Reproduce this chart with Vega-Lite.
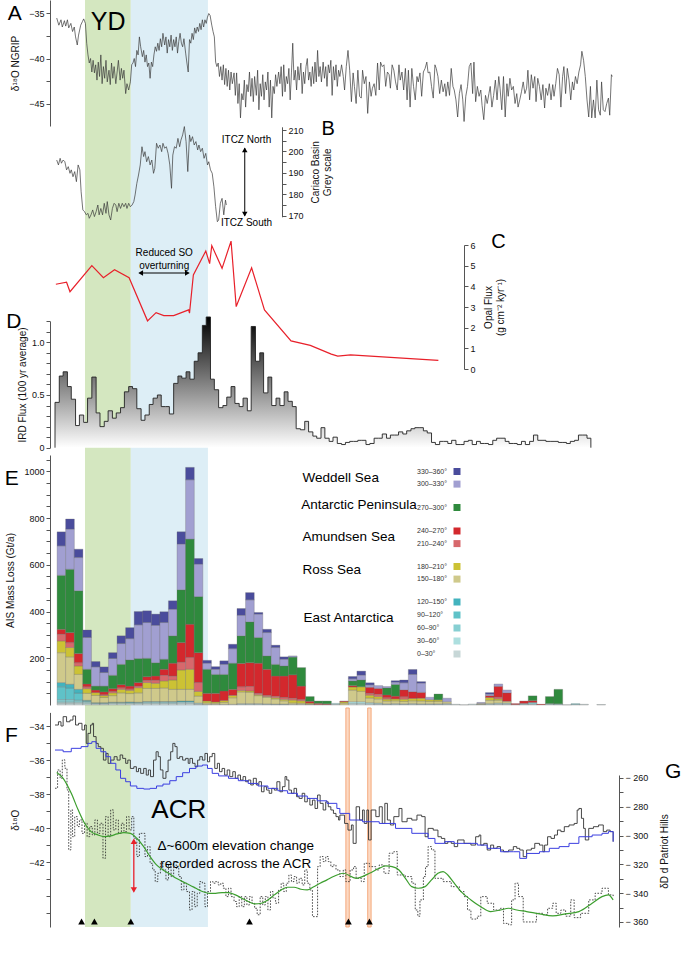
{
"$schema": "https://vega.github.io/schema/vega-lite/v6.json",
"width": 569, "height": 927,
"autosize": {"type": "none"},
"padding": {"left": 50, "top": 0, "right": 66, "bottom": 34},
"background": "white",
"config": {
  "view": {"stroke": null},
  "font": "Liberation Sans",
  "axis": {"labelFontSize": 9, "titleFontSize": 10, "titleFontWeight": "normal", "domainColor": "#555", "tickColor": "#555", "labelColor": "#111", "titleColor": "#111", "grid": false, "tickSize": 4, "labelPadding": 2, "labelFont": "Liberation Sans", "titleFont": "Liberation Sans"},
  "text": {"font": "Liberation Sans"}
},
"data": {"values": [{}]},
"datasets": {
  "regions": [
    {"k": "a330", "r": "330–360°", "o": 11, "g": "Weddell Sea"},
    {"k": "a300", "r": "300–330°", "o": 10, "g": "Weddell Sea"},
    {"k": "a270", "r": "270–300°", "o": 9, "g": "Antarctic Peninsula"},
    {"k": "a240", "r": "240–270°", "o": 8, "g": "Amundsen Sea"},
    {"k": "a210", "r": "210–240°", "o": 7, "g": "Amundsen Sea"},
    {"k": "a180", "r": "180–210°", "o": 6, "g": "Ross Sea"},
    {"k": "a150", "r": "150–180°", "o": 5, "g": "Ross Sea"},
    {"k": "a120", "r": "120–150°", "o": 4, "g": "East Antarctica"},
    {"k": "a90", "r": "90–120°", "o": 3, "g": "East Antarctica"},
    {"k": "a60", "r": "60–90°", "o": 2, "g": "East Antarctica"},
    {"k": "a30", "r": "30–60°", "o": 1, "g": "East Antarctica"},
    {"k": "a0", "r": "0–30°", "o": 0, "g": "East Antarctica"}
  ],
  "ird": [
{"t":10.95,"v":0},{"t":10.95,"v":0.43},{"t":11.05,"v":0.68},{"t":11.14,"v":0.72},{"t":11.24,"v":0.58},{"t":11.33,"v":0.46},{"t":11.43,"v":0.21},{"t":11.52,"v":0.31},{"t":11.62,"v":0.24},{"t":11.71,"v":0.47},{"t":11.81,"v":0.67},{"t":11.91,"v":0.33},{"t":12.00,"v":0.20},{"t":12.10,"v":0.25},{"t":12.19,"v":0.35},{"t":12.29,"v":0.28},{"t":12.38,"v":0.33},{"t":12.48,"v":0.38},{"t":12.57,"v":0.53},{"t":12.67,"v":0.58},{"t":12.76,"v":0.56},{"t":12.86,"v":0.37},{"t":12.96,"v":0.26},{"t":13.05,"v":0.31},{"t":13.15,"v":0.41},{"t":13.24,"v":0.47},{"t":13.34,"v":0.50},{"t":13.43,"v":0.39},{"t":13.53,"v":0.39},{"t":13.62,"v":0.32},{"t":13.72,"v":0.61},{"t":13.82,"v":0.68},{"t":13.91,"v":0.66},{"t":14.01,"v":0.72},{"t":14.10,"v":0.65},{"t":14.20,"v":0.82},{"t":14.29,"v":0.90},{"t":14.39,"v":1.16},{"t":14.48,"v":1.24},{"t":14.58,"v":0.65},{"t":14.67,"v":0.55},{"t":14.77,"v":0.38},{"t":14.87,"v":0.40},{"t":14.96,"v":0.48},{"t":15.06,"v":0.58},{"t":15.15,"v":0.42},{"t":15.25,"v":0.39},{"t":15.34,"v":0.47},{"t":15.44,"v":0.35},{"t":15.53,"v":1.15},{"t":15.63,"v":0.82},{"t":15.73,"v":0.90},{"t":15.82,"v":0.52},{"t":15.92,"v":0.67},{"t":16.01,"v":0.40},{"t":16.11,"v":0.47},{"t":16.20,"v":0.40},{"t":16.30,"v":0.53},{"t":16.39,"v":0.44},{"t":16.49,"v":0.39},{"t":16.58,"v":0.18},{"t":16.68,"v":0.17},{"t":16.78,"v":0.25},{"t":16.87,"v":0.15},{"t":16.97,"v":0.11},{"t":17.06,"v":0.09},{"t":17.16,"v":0.19},{"t":17.25,"v":0.09},{"t":17.35,"v":0.06},{"t":17.44,"v":0.10},{"t":17.54,"v":0.04},{"t":17.64,"v":0.03},{"t":17.73,"v":0.05},{"t":17.83,"v":0.06},{"t":17.92,"v":0.06},{"t":18.02,"v":0.07},{"t":18.11,"v":0.07},{"t":18.21,"v":0.03},{"t":18.30,"v":0.04},{"t":18.40,"v":0.09},{"t":18.50,"v":0.09},{"t":18.59,"v":0.13},{"t":18.69,"v":0.09},{"t":18.78,"v":0.12},{"t":18.88,"v":0.12},{"t":18.97,"v":0.15},{"t":19.07,"v":0.13},{"t":19.16,"v":0.16},{"t":19.26,"v":0.18},{"t":19.35,"v":0.19},{"t":19.45,"v":0.19},{"t":19.55,"v":0.16},{"t":19.64,"v":0.14},{"t":19.74,"v":0.05},{"t":19.83,"v":0.03},{"t":19.93,"v":0.06},{"t":20.02,"v":0.06},{"t":20.12,"v":0.04},{"t":20.21,"v":0.07},{"t":20.31,"v":0.03},{"t":20.41,"v":0.03},{"t":20.50,"v":0.06},{"t":20.60,"v":0.07},{"t":20.69,"v":0.03},{"t":20.79,"v":0.06},{"t":20.88,"v":0.04},{"t":20.98,"v":0.04},{"t":21.07,"v":0.03},{"t":21.17,"v":0.07},{"t":21.26,"v":0.09},{"t":21.36,"v":0.09},{"t":21.46,"v":0.06},{"t":21.55,"v":0.04},{"t":21.65,"v":0.04},{"t":21.74,"v":0.03},{"t":21.84,"v":0.06},{"t":21.93,"v":0.03},{"t":22.03,"v":0.06},{"t":22.12,"v":0.12},{"t":22.22,"v":0.07},{"t":22.32,"v":0.07},{"t":22.41,"v":0.06},{"t":22.51,"v":0.06},{"t":22.60,"v":0.06},{"t":22.70,"v":0.05},{"t":22.79,"v":0.05},{"t":22.89,"v":0.04},{"t":22.98,"v":0.06},{"t":23.08,"v":0.07},{"t":23.17,"v":0.12},{"t":23.27,"v":0.12},{"t":23.37,"v":0.09},{"t":23.46,"v":0}
  ]
},
"resolve": {"scale": {"y": "independent", "color": "independent"}, "axis": {"y": "independent"}},
"layer": [
  {"mark": {"type": "rect", "color": "#d4e7c0"},
   "encoding": {"x": {"datum": 11.65, "type": "quantitative", "scale": {"domain": [10.95, 24], "nice": false, "zero": false}, "axis": null}, "x2": {"datum": 12.72}}},
  {"mark": {"type": "rect", "color": "#ddeef6"},
   "encoding": {"x": {"datum": 12.72, "type": "quantitative", "scale": {"domain": [10.95, 24], "nice": false, "zero": false}, "axis": null}, "x2": {"datum": 14.52}}},

  {"data": {"values": [{"t": 17.74, "t2": 17.82}, {"t": 18.25, "t2": 18.33}]},
   "mark": {"type": "rect", "fill": "#fcd9c3", "stroke": "#f39a66", "strokeWidth": 0.8},
   "encoding": {"x": {"field": "t", "type": "quantitative", "scale": {"domain": [10.95, 24], "nice": false, "zero": false}, "axis": null}, "x2": {"field": "t2"},
     "y": {"datum": -32.94, "type": "quantitative", "scale": {"domain": [-45.8, -33.2], "range": [927, 712.4], "nice": false, "zero": false}, "axis": null}, "y2": {"datum": -45.8}}},

  {"data": {"values": [
{"t":10.99,"v":-35.5},{"t":11.04,"v":-36.3},{"t":11.09,"v":-35.7},{"t":11.12,"v":-36.5},{"t":11.17,"v":-35.8},{"t":11.20,"v":-36.4},{"t":11.24,"v":-35.7},{"t":11.27,"v":-36.6},{"t":11.32,"v":-36.1},{"t":11.36,"v":-37.0},{"t":11.40,"v":-36.5},{"t":11.43,"v":-37.6},{"t":11.47,"v":-38.5},{"t":11.50,"v":-37.4},{"t":11.55,"v":-36.3},{"t":11.59,"v":-35.9},{"t":11.62,"v":-35.6},{"t":11.66,"v":-36.1},{"t":11.69,"v":-38.3},{"t":11.72,"v":-39.6},{"t":11.75,"v":-40.5},{"t":11.78,"v":-40.0},{"t":11.81,"v":-41.5},{"t":11.84,"v":-40.2},{"t":11.87,"v":-41.6},{"t":11.90,"v":-40.7},{"t":11.93,"v":-42.4},{"t":11.96,"v":-40.4},{"t":11.99,"v":-42.0},{"t":12.02,"v":-39.6},{"t":12.05,"v":-42.8},{"t":12.08,"v":-40.9},{"t":12.11,"v":-42.2},{"t":12.14,"v":-40.2},{"t":12.17,"v":-42.6},{"t":12.21,"v":-41.3},{"t":12.24,"v":-42.9},{"t":12.27,"v":-40.5},{"t":12.30,"v":-42.2},{"t":12.33,"v":-40.9},{"t":12.37,"v":-42.8},{"t":12.40,"v":-41.5},{"t":12.43,"v":-40.2},{"t":12.47,"v":-42.4},{"t":12.50,"v":-41.1},{"t":12.53,"v":-42.2},{"t":12.56,"v":-41.3},{"t":12.60,"v":-43.9},{"t":12.63,"v":-42.8},{"t":12.67,"v":-43.5},{"t":12.71,"v":-42.6},
{"t":12.74,"v":-40.7},{"t":12.77,"v":-40.5},{"t":12.80,"v":-40.0},{"t":12.83,"v":-40.9},{"t":12.86,"v":-39.1},{"t":12.89,"v":-39.6},{"t":12.92,"v":-37.6},{"t":12.95,"v":-38.7},{"t":12.99,"v":-39.8},{"t":13.02,"v":-39.1},{"t":13.05,"v":-40.4},{"t":13.08,"v":-39.6},{"t":13.11,"v":-40.9},{"t":13.14,"v":-40.5},{"t":13.17,"v":-42.2},{"t":13.20,"v":-40.4},{"t":13.23,"v":-40.9},{"t":13.26,"v":-39.6},{"t":13.29,"v":-38.7},{"t":13.32,"v":-39.2},{"t":13.35,"v":-38.3},{"t":13.38,"v":-39.1},{"t":13.41,"v":-37.8},{"t":13.44,"v":-38.7},{"t":13.47,"v":-37.2},{"t":13.51,"v":-38.5},{"t":13.54,"v":-37.6},{"t":13.57,"v":-39.4},{"t":13.60,"v":-37.9},{"t":13.63,"v":-38.7},{"t":13.66,"v":-37.4},{"t":13.69,"v":-39.1},{"t":13.72,"v":-37.9},{"t":13.75,"v":-38.7},{"t":13.78,"v":-37.6},{"t":13.81,"v":-39.4},{"t":13.84,"v":-38.1},{"t":13.87,"v":-37.2},{"t":13.90,"v":-38.3},{"t":13.93,"v":-38.7},{"t":13.96,"v":-37.8},{"t":14.00,"v":-39.4},{"t":14.03,"v":-40.5},{"t":14.06,"v":-41.5},{"t":14.09,"v":-37.9},{"t":14.12,"v":-38.3},{"t":14.15,"v":-37.2},{"t":14.18,"v":-37.9},{"t":14.21,"v":-36.6},{"t":14.24,"v":-37.2},{"t":14.27,"v":-36.5},{"t":14.30,"v":-37.0},{"t":14.33,"v":-36.1},{"t":14.36,"v":-36.8},{"t":14.39,"v":-35.7},{"t":14.42,"v":-36.5},{"t":14.45,"v":-35.7},{"t":14.48,"v":-36.1},{"t":14.51,"v":-35.4},{"t":14.54,"v":-35.0},{"t":14.57,"v":-35.2},{"t":14.61,"v":-36.3},{"t":14.64,"v":-37.0},{"t":14.67,"v":-37.6},{"t":14.70,"v":-40.4},
{"t":14.73,"v":-40.9},{"t":14.76,"v":-40.5},{"t":14.79,"v":-42.0},{"t":14.82,"v":-40.9},{"t":14.85,"v":-42.4},{"t":14.88,"v":-40.7},{"t":14.91,"v":-42.9},{"t":14.94,"v":-41.1},{"t":14.97,"v":-43.1},{"t":15.00,"v":-41.3},{"t":15.03,"v":-43.5},{"t":15.06,"v":-41.5},{"t":15.09,"v":-42.8},{"t":15.13,"v":-41.6},{"t":15.16,"v":-44.1},{"t":15.19,"v":-41.6},{"t":15.22,"v":-45.0},{"t":15.25,"v":-42.8},{"t":15.28,"v":-46.6},{"t":15.31,"v":-43.9},{"t":15.34,"v":-44.6},{"t":15.37,"v":-42.4},{"t":15.40,"v":-45.4},{"t":15.43,"v":-42.9},{"t":15.46,"v":-43.7},{"t":15.49,"v":-41.5},{"t":15.52,"v":-44.2},{"t":15.55,"v":-42.2},{"t":15.58,"v":-44.8},{"t":15.61,"v":-42.0},{"t":15.65,"v":-44.1},{"t":15.68,"v":-41.3},{"t":15.71,"v":-45.7},{"t":15.74,"v":-42.8},{"t":15.77,"v":-44.2},{"t":15.80,"v":-41.8},{"t":15.83,"v":-44.6},{"t":15.86,"v":-42.6},{"t":15.89,"v":-43.5},{"t":15.92,"v":-41.5},{"t":15.95,"v":-45.4},{"t":15.98,"v":-42.4},{"t":16.01,"v":-46.6},{"t":16.04,"v":-43.1},{"t":16.07,"v":-43.9},{"t":16.10,"v":-41.8},{"t":16.13,"v":-43.1},{"t":16.17,"v":-41.5},{"t":16.20,"v":-42.8},{"t":16.23,"v":-40.9},{"t":16.26,"v":-44.2},{"t":16.29,"v":-40.7},{"t":16.32,"v":-43.7},{"t":16.35,"v":-42.0},{"t":16.38,"v":-42.8},{"t":16.41,"v":-41.1},{"t":16.44,"v":-44.6},{"t":16.47,"v":-41.6},{"t":16.50,"v":-38.3},{"t":16.53,"v":-42.4},{"t":16.56,"v":-41.3},{"t":16.59,"v":-43.5},{"t":16.62,"v":-40.9},{"t":16.65,"v":-42.4},{"t":16.69,"v":-40.5},{"t":16.72,"v":-43.9},{"t":16.75,"v":-41.5},{"t":16.78,"v":-42.8},{"t":16.81,"v":-40.9},{"t":16.84,"v":-40.0},{"t":16.87,"v":-42.4},{"t":16.90,"v":-41.5},{"t":16.93,"v":-43.1},{"t":16.96,"v":-40.9},{"t":16.99,"v":-42.8},{"t":17.02,"v":-40.4},{"t":17.05,"v":-42.6},{"t":17.08,"v":-39.1},{"t":17.11,"v":-42.0},{"t":17.14,"v":-40.9},{"t":17.17,"v":-42.6},{"t":17.21,"v":-40.4},{"t":17.24,"v":-42.2},{"t":17.27,"v":-40.9},{"t":17.30,"v":-43.1},{"t":17.33,"v":-40.7},{"t":17.36,"v":-41.6},{"t":17.39,"v":-40.2},{"t":17.42,"v":-44.1},{"t":17.45,"v":-40.9},{"t":17.48,"v":-42.4},{"t":17.51,"v":-40.7},{"t":17.54,"v":-43.1},{"t":17.57,"v":-41.3},{"t":17.60,"v":-42.0},
{"t":17.64,"v":-40.7},{"t":17.68,"v":-42.0},{"t":17.71,"v":-43.5},{"t":17.75,"v":-40.9},{"t":17.79,"v":-39.1},{"t":17.83,"v":-41.3},{"t":17.87,"v":-44.8},{"t":17.91,"v":-41.6},{"t":17.94,"v":-43.1},{"t":17.98,"v":-45.0},{"t":18.02,"v":-41.3},{"t":18.06,"v":-44.2},{"t":18.10,"v":-44.4},{"t":18.13,"v":-41.3},{"t":18.17,"v":-42.8},{"t":18.21,"v":-42.0},{"t":18.25,"v":-46.1},{"t":18.29,"v":-42.6},{"t":18.33,"v":-44.2},{"t":18.36,"v":-43.3},{"t":18.40,"v":-42.8},{"t":18.44,"v":-44.1},{"t":18.48,"v":-40.5},{"t":18.52,"v":-43.5},{"t":18.55,"v":-40.4},{"t":18.59,"v":-40.9},{"t":18.63,"v":-40.7},{"t":18.67,"v":-43.1},{"t":18.71,"v":-41.5},{"t":18.75,"v":-41.8},{"t":18.78,"v":-43.3},{"t":18.82,"v":-40.7},{"t":18.86,"v":-41.3},{"t":18.90,"v":-42.6},{"t":18.94,"v":-43.5},{"t":18.98,"v":-40.7},{"t":19.01,"v":-42.4},{"t":19.05,"v":-41.5},{"t":19.09,"v":-43.5},{"t":19.13,"v":-41.1},{"t":19.17,"v":-44.6},{"t":19.20,"v":-41.3},{"t":19.24,"v":-45.4},{"t":19.28,"v":-41.1},{"t":19.32,"v":-43.1},{"t":19.36,"v":-44.6},{"t":19.40,"v":-42.0},{"t":19.43,"v":-42.6},{"t":19.47,"v":-41.6},{"t":19.51,"v":-44.2},{"t":19.55,"v":-41.5},{"t":19.59,"v":-41.1},{"t":19.63,"v":-40.4},{"t":19.66,"v":-41.6},{"t":19.70,"v":-41.5},{"t":19.74,"v":-43.1},{"t":19.78,"v":-44.4},{"t":19.82,"v":-40.7},{"t":19.85,"v":-41.1},{"t":19.89,"v":-42.0},{"t":19.93,"v":-43.9},{"t":19.97,"v":-42.4},{"t":20.01,"v":-43.7},{"t":20.05,"v":-42.8},{"t":20.08,"v":-44.2},{"t":20.12,"v":-42.6},{"t":20.16,"v":-44.1},{"t":20.20,"v":-41.1},{"t":20.24,"v":-43.1},{"t":20.27,"v":-43.5},{"t":20.31,"v":-44.6},{"t":20.35,"v":-46.5},{"t":20.39,"v":-43.9},{"t":20.43,"v":-42.9},{"t":20.47,"v":-44.6},{"t":20.50,"v":-47.0},{"t":20.54,"v":-44.2},{"t":20.58,"v":-43.1},{"t":20.62,"v":-40.9},{"t":20.66,"v":-40.5},{"t":20.70,"v":-43.9},{"t":20.73,"v":-40.4},{"t":20.77,"v":-44.8},{"t":20.81,"v":-43.1},{"t":20.85,"v":-44.2},{"t":20.89,"v":-43.5},{"t":20.92,"v":-45.2},{"t":20.96,"v":-46.8},{"t":21.00,"v":-44.1},{"t":21.04,"v":-45.0},{"t":21.08,"v":-43.9},{"t":21.11,"v":-43.1},{"t":21.15,"v":-45.4},{"t":21.19,"v":-44.1},{"t":21.23,"v":-42.4},{"t":21.27,"v":-44.6},{"t":21.31,"v":-42.0},{"t":21.34,"v":-43.3},{"t":21.38,"v":-45.7},{"t":21.42,"v":-42.0},{"t":21.46,"v":-46.5},{"t":21.50,"v":-42.8},{"t":21.53,"v":-44.2},{"t":21.57,"v":-42.2},{"t":21.61,"v":-43.5},{"t":21.65,"v":-43.1},{"t":21.69,"v":-45.0},{"t":21.73,"v":-43.9},{"t":21.76,"v":-45.4},{"t":21.80,"v":-44.6},{"t":21.84,"v":-43.7},{"t":21.88,"v":-42.6},{"t":21.92,"v":-43.9},{"t":21.96,"v":-43.3},{"t":21.99,"v":-41.3},{"t":22.03,"v":-44.6},{"t":22.07,"v":-41.8},{"t":22.11,"v":-43.3},{"t":22.15,"v":-42.0},{"t":22.18,"v":-44.8},{"t":22.22,"v":-42.2},{"t":22.26,"v":-43.1},{"t":22.30,"v":-44.6},{"t":22.34,"v":-42.9},{"t":22.38,"v":-45.5},{"t":22.41,"v":-43.3},{"t":22.45,"v":-44.1},{"t":22.49,"v":-42.8},{"t":22.53,"v":-44.6},{"t":22.57,"v":-42.9},{"t":22.60,"v":-44.2},{"t":22.64,"v":-42.8},{"t":22.68,"v":-41.1},{"t":22.72,"v":-41.8},{"t":22.76,"v":-45.4},{"t":22.80,"v":-42.0},{"t":22.83,"v":-40.9},{"t":22.87,"v":-43.9},{"t":22.91,"v":-41.1},{"t":22.95,"v":-42.4},{"t":22.99,"v":-44.6},{"t":23.03,"v":-42.6},{"t":23.06,"v":-43.5},{"t":23.10,"v":-42.0},{"t":23.14,"v":-42.8},{"t":23.18,"v":-41.5},{"t":23.22,"v":-40.7},{"t":23.25,"v":-39.2},{"t":23.29,"v":-40.2},{"t":23.33,"v":-42.0},{"t":23.37,"v":-44.6},{"t":23.41,"v":-46.5},{"t":23.45,"v":-43.1},{"t":23.48,"v":-46.6},{"t":23.52,"v":-44.6},{"t":23.56,"v":-46.6},{"t":23.60,"v":-42.4},{"t":23.64,"v":-45.7},{"t":23.68,"v":-46.3},{"t":23.71,"v":-42.6},{"t":23.75,"v":-45.7},{"t":23.79,"v":-45.9},{"t":23.83,"v":-45.0},{"t":23.87,"v":-44.4},{"t":23.90,"v":-46.3},{"t":23.94,"v":-41.8},{"t":23.96,"v":-42.0}
   ]},
   "mark": {"type": "line", "color": "#3a3a3a", "strokeWidth": 0.7},
   "encoding": {
     "x": {"field": "t", "type": "quantitative", "scale": {"domain": [10.95, 24], "nice": false, "zero": false},
       "axis": {"orient": "bottom", "values": [11,12,13,14,15,16,17,18,19,20,21,22,23,24], "format": "d", "labelExpr": "datum.value % 2 == 0 ? datum.label : ''", "title": "Time (ka)", "tickSize": 5, "labelFontSize": 9, "titleFontSize": 9.5, "titlePadding": 6}},
     "y": {"field": "v", "type": "quantitative", "scale": {"domain": [-47.5, -33.5], "range": [126, 0], "nice": false, "zero": false},
       "axis": {"orient": "left", "values": [-35, -37.5, -40, -42.5, -45], "labelExpr": "datum.value % 5 == 0 ? datum.label : ''", "title": "δ¹⁸O NGRIP", "titlePadding": 8}}}},

  {"data": {"values": [
{"t":10.99,"v":196.0},{"t":11.03,"v":193.7},{"t":11.07,"v":196.8},{"t":11.10,"v":194.5},{"t":11.14,"v":196.0},{"t":11.18,"v":195.2},{"t":11.22,"v":191.4},{"t":11.26,"v":192.9},{"t":11.30,"v":189.8},{"t":11.33,"v":191.4},{"t":11.37,"v":188.2},{"t":11.41,"v":190.6},{"t":11.45,"v":185.9},{"t":11.49,"v":193.7},{"t":11.53,"v":191.4},{"t":11.56,"v":181.2},{"t":11.60,"v":172.7},{"t":11.64,"v":171.9},{"t":11.68,"v":170.4},{"t":11.72,"v":171.1},{"t":11.75,"v":168.8},{"t":11.79,"v":170.4},{"t":11.83,"v":172.7},{"t":11.87,"v":169.6},{"t":11.91,"v":171.9},{"t":11.95,"v":175.0},{"t":11.98,"v":170.4},{"t":12.02,"v":173.4},{"t":12.06,"v":170.4},{"t":12.10,"v":175.8},{"t":12.14,"v":171.1},{"t":12.17,"v":176.6},{"t":12.21,"v":170.4},{"t":12.25,"v":168.0},{"t":12.29,"v":173.4},{"t":12.33,"v":175.8},{"t":12.37,"v":175.0},{"t":12.40,"v":171.9},{"t":12.44,"v":175.8},{"t":12.48,"v":173.4},{"t":12.52,"v":175.8},{"t":12.56,"v":174.2},{"t":12.60,"v":175.8},{"t":12.63,"v":173.4},{"t":12.67,"v":175.8},{"t":12.71,"v":174.2},{"t":12.75,"v":175.0},{"t":12.79,"v":176.6},{"t":12.82,"v":179.7},{"t":12.86,"v":185.1},{"t":12.90,"v":189.0},{"t":12.94,"v":193.7},{"t":12.98,"v":202.2},{"t":13.02,"v":197.6},{"t":13.05,"v":199.9},{"t":13.09,"v":195.2},{"t":13.13,"v":197.6},{"t":13.17,"v":193.7},{"t":13.21,"v":196.0},{"t":13.25,"v":189.8},{"t":13.28,"v":192.1},{"t":13.32,"v":203.8},{"t":13.36,"v":201.5},{"t":13.40,"v":203.0},{"t":13.44,"v":199.9},{"t":13.47,"v":203.8},{"t":13.51,"v":201.5},{"t":13.55,"v":202.2},{"t":13.59,"v":199.1},{"t":13.63,"v":193.7},{"t":13.67,"v":182.8},{"t":13.70,"v":198.3},{"t":13.74,"v":202.2},{"t":13.78,"v":201.5},{"t":13.82,"v":206.1},{"t":13.86,"v":202.2},{"t":13.89,"v":205.3},{"t":13.93,"v":207.7},{"t":13.97,"v":211.6},{"t":14.01,"v":204.6},{"t":14.05,"v":190.6},{"t":14.09,"v":207.7},{"t":14.12,"v":204.6},{"t":14.16,"v":206.9},{"t":14.20,"v":203.0},{"t":14.24,"v":204.6},{"t":14.28,"v":200.7},{"t":14.31,"v":203.0},{"t":14.35,"v":199.9},{"t":14.39,"v":201.5},{"t":14.43,"v":196.8},{"t":14.47,"v":199.1},{"t":14.51,"v":193.7},{"t":14.54,"v":195.2},{"t":14.58,"v":191.4},{"t":14.62,"v":189.8},{"t":14.66,"v":183.5},{"t":14.70,"v":174.2},{"t":14.74,"v":167.2},{"t":14.77,"v":168.0},{"t":14.81,"v":175.8},{"t":14.85,"v":178.1},{"t":14.89,"v":170.4},{"t":14.93,"v":177.3},{"t":14.95,"v":175.0}
   ]},
   "mark": {"type": "line", "color": "#3a3a3a", "strokeWidth": 0.7},
   "encoding": {
     "x": {"field": "t", "type": "quantitative", "scale": {"domain": [10.95, 24], "nice": false, "zero": false}, "axis": null},
     "y": {"field": "v", "type": "quantitative", "scale": {"domain": [169.5, 211.5], "range": [216.8, 126.8], "nice": false, "zero": false},
       "axis": {"orient": "right", "offset": -337, "values": [170,175,180,185,190,195,200,205,210], "format": "d", "labelExpr": "datum.value % 10 == 0 ? datum.label : ''", "title": ["Cariaco Basin", "Grey scale"], "titleAngle": 270, "titlePadding": 5}}}},

  {"data": {"values": [
{"t":10.97,"v":4.10},{"t":11.22,"v":4.20},{"t":11.30,"v":3.74},{"t":11.81,"v":5.00},{"t":12.08,"v":4.42},{"t":12.34,"v":4.80},{"t":12.68,"v":4.42},{"t":13.11,"v":2.33},{"t":13.31,"v":2.73},{"t":13.49,"v":2.58},{"t":13.72,"v":2.58},{"t":14.07,"v":2.86},{"t":14.09,"v":2.70},{"t":14.18,"v":4.55},{"t":14.47,"v":5.71},{"t":14.56,"v":5.10},{"t":14.61,"v":5.97},{"t":14.85,"v":4.87},{"t":15.06,"v":6.19},{"t":15.18,"v":3.02},{"t":15.54,"v":4.90},{"t":15.84,"v":2.86},{"t":16.46,"v":1.36},{"t":16.91,"v":1.14},{"t":17.40,"v":0.72},{"t":17.55,"v":0.62},{"t":17.85,"v":0.68},{"t":19.90,"v":0.42}
   ]},
   "mark": {"type": "line", "color": "#e8202a", "strokeWidth": 1.2},
   "encoding": {
     "x": {"field": "t", "type": "quantitative", "scale": {"domain": [10.95, 24], "nice": false, "zero": false}, "axis": null},
     "y": {"field": "v", "type": "quantitative", "scale": {"domain": [0, 6], "range": [369, 245], "nice": false, "zero": false},
       "axis": {"orient": "right", "offset": -155, "values": [0,1,2,3,4,5,6], "format": "d", "title": ["Opal Flux", "(g cm⁻² kyr⁻¹)"], "titleAngle": 270, "titlePadding": 6}}}},

  {"data": {"name": "ird"},
   "mark": {"type": "area", "interpolate": "step-after", "color": {"gradient": "linear", "x1": 0, "y1": 0, "x2": 0, "y2": 1, "stops": [{"offset": 0, "color": "#000000"}, {"offset": 1, "color": "#ffffff"}]}},
   "encoding": {
     "x": {"field": "t", "type": "quantitative", "scale": {"domain": [10.95, 24], "nice": false, "zero": false}, "axis": null},
     "y": {"field": "v", "type": "quantitative", "scale": {"domain": [0, 1.2], "range": [447.7, 321.2], "nice": false, "zero": false},
       "axis": {"orient": "left", "values": [0,0.1,0.2,0.3,0.4,0.5,0.6,0.7,0.8,0.9,1,1.1,1.2], "labelExpr": "datum.value == 0 ? '0' : datum.value == 0.5 ? '0.5' : datum.value == 1 ? '1.0' : ''", "title": "IRD Flux (100 yr average)", "titlePadding": 4}}}},
  {"data": {"name": "ird"},
   "mark": {"type": "line", "interpolate": "step-after", "color": "#222222", "strokeWidth": 0.9},
   "encoding": {
     "x": {"field": "t", "type": "quantitative", "scale": {"domain": [10.95, 24], "nice": false, "zero": false}, "axis": null},
     "y": {"field": "v", "type": "quantitative", "scale": {"domain": [0, 1.2], "range": [447.7, 321.2], "nice": false, "zero": false}, "axis": null}}},

  {"data": {"values": [
{"t":11.1,"a0":8,"a30":5,"a60":10,"a90":55,"a120":18,"a150":128,"a180":50,"a210":29,"a240":21,"a270":231,"a300":126,"a330":60},
{"t":11.3,"a0":8,"a30":5,"a60":10,"a90":50,"a120":16,"a150":117,"a180":40,"a210":21,"a240":43,"a270":271,"a300":172,"a330":43},
{"t":11.5,"a0":8,"a30":5,"a60":8,"a90":30,"a120":16,"a150":64,"a180":36,"a210":14,"a240":39,"a270":269,"a300":142,"a330":36},
{"t":11.7,"a0":6,"a30":6,"a60":4,"a120":4,"a150":30,"a180":20,"a210":8,"a240":12,"a270":63,"a300":136,"a330":32},
{"t":11.9,"a0":5,"a30":3,"a120":2,"a150":31,"a180":12,"a240":11,"a270":17,"a300":82,"a330":23},
{"t":12.1,"a0":5,"a30":3,"a120":2,"a150":22,"a180":8,"a210":4,"a240":12,"a270":25,"a300":58,"a330":24},
{"t":12.3,"a0":6,"a30":4,"a120":2,"a150":28,"a180":12,"a210":6,"a240":12,"a270":57,"a300":72,"a330":25},
{"t":12.5,"a0":6,"a30":4,"a120":2,"a150":40,"a180":15,"a210":7,"a240":13,"a270":87,"a300":89,"a330":33},
{"t":12.7,"a0":6,"a30":4,"a120":3,"a150":36,"a180":14,"a210":6,"a240":12,"a270":112,"a300":91,"a330":47},
{"t":12.9,"a0":6,"a30":4,"a120":2,"a150":40,"a180":22,"a210":7,"a240":15,"a270":103,"a300":144,"a330":57},
{"t":13.1,"a0":7,"a30":5,"a120":3,"a150":56,"a180":25,"a210":10,"a240":15,"a270":79,"a300":153,"a330":50},
{"t":13.3,"a0":7,"a30":5,"a120":3,"a150":56,"a180":22,"a210":14,"a240":17,"a270":57,"a300":160,"a330":48},
{"t":13.5,"a0":7,"a30":5,"a120":3,"a150":58,"a180":30,"a210":24,"a240":26,"a270":43,"a300":157,"a330":46},
{"t":13.7,"a0":7,"a30":5,"a120":3,"a150":52,"a180":40,"a210":17,"a240":55,"a270":117,"a300":114,"a330":36},
{"t":13.9,"a0":8,"a30":5,"a120":4,"a150":50,"a180":83,"a210":34,"a240":83,"a270":226,"a300":196,"a330":52},
{"t":14.1,"a0":8,"a30":5,"a120":4,"a150":50,"a180":86,"a210":50,"a240":143,"a270":364,"a300":254,"a330":53},
{"t":14.3,"a0":4,"a30":4,"a150":30,"a180":20,"a210":38,"a240":128,"a270":240,"a300":139,"a330":24},
{"t":14.5,"a0":3,"a150":6,"a180":8,"a240":33,"a270":103,"a300":26,"a330":12},
{"t":14.7,"a0":3,"a150":5,"a180":5,"a240":37,"a270":81,"a300":22,"a330":11},
{"t":14.9,"a0":3,"a150":8,"a180":8,"a240":41,"a270":71,"a300":43,"a330":15},
{"t":15.1,"a0":3,"a150":28,"a180":10,"a240":26,"a270":112,"a300":62,"a330":19},
{"t":15.3,"a0":3,"a30":3,"a150":50,"a180":6,"a210":16,"a240":100,"a270":118,"a300":88,"a330":29},
{"t":15.5,"a0":3,"a30":3,"a150":48,"a180":6,"a210":19,"a240":102,"a270":175,"a300":94,"a330":31},
{"t":15.7,"a0":3,"a30":3,"a150":34,"a180":4,"a210":6,"a240":129,"a270":110,"a300":100,"a330":7},
{"t":15.9,"a0":3,"a30":2,"a150":28,"a180":3,"a210":5,"a240":112,"a270":57,"a300":100,"a330":14},
{"t":16.1,"a0":2,"a30":2,"a150":22,"a180":5,"a210":6,"a240":87,"a270":50,"a300":72,"a330":10},
{"t":16.3,"a0":2,"a30":2,"a150":14,"a180":6,"a210":8,"a240":92,"a270":43,"a300":29,"a330":10},
{"t":16.5,"a0":3,"a150":6,"a180":12,"a210":8,"a240":100,"a270":76,"a300":5},
{"t":16.7,"a0":3,"a150":5,"a180":10,"a210":5,"a240":58,"a270":79},
{"t":16.9,"a0":2,"a150":2,"a180":4,"a240":8,"a270":20},
{"t":17.1,"a0":2,"a240":5,"a270":10},
{"t":17.3,"a0":2,"a240":3,"a270":12},
{"t":17.5,"a0":3,"a30":4},
{"t":17.7,"a150":8,"a180":6,"a240":3},
{"t":17.9,"a0":6,"a30":8,"a150":50,"a180":13,"a240":6,"a270":20,"a300":9,"a330":10},
{"t":18.1,"a0":6,"a30":8,"a150":44,"a180":20,"a270":29,"a300":21,"a330":17},
{"t":18.3,"a0":5,"a30":5,"a150":20,"a180":12,"a210":8,"a240":26,"a300":10,"a330":9},
{"t":18.5,"a0":4,"a30":4,"a150":18,"a180":10,"a210":10,"a240":25,"a300":12},
{"t":18.7,"a0":3,"a30":2,"a150":12,"a180":8,"a210":6,"a240":12,"a270":30,"a300":6},
{"t":18.9,"a0":3,"a30":3,"a150":12,"a180":8,"a240":12,"a270":50,"a300":10,"a330":6},
{"t":19.1,"a0":3,"a30":2,"a150":10,"a180":10,"a210":10,"a240":30,"a300":30,"a330":12},
{"t":19.3,"a0":3,"a30":3,"a150":12,"a180":10,"a240":29,"a300":74,"a330":21},
{"t":19.5,"a0":3,"a30":2,"a150":12,"a180":12,"a240":25,"a300":40,"a330":6},
{"t":19.7,"a0":3,"a30":2,"a150":10,"a180":8,"a300":10},
{"t":19.9,"a0":3,"a30":2,"a150":10,"a180":7,"a270":25},
{"t":20.1,"a0":3,"a30":3,"a150":8,"a300":15},
{"t":20.3,"a0":3},
{"t":20.5,"a0":1},
{"t":20.7,"a0":4},
{"t":20.9,"a0":2,"a30":1,"a150":4,"a300":4},
{"t":21.1,"a0":3,"a30":3,"a150":14,"a180":12,"a240":8,"a300":7,"a330":6},
{"t":21.3,"a0":4,"a30":4,"a150":12,"a180":6,"a210":8,"a240":46,"a300":10},
{"t":21.5,"a0":4,"a30":4,"a150":8,"a240":36,"a300":12},
{"t":21.7,"a0":2,"a240":4},
{"t":21.9,"a0":3,"a60":4,"a240":10},
{"t":22.1,"a0":4,"a60":7,"a240":8,"a270":20},
{"t":22.3,"a240":3},
{"t":22.5,"a0":3,"a30":3,"a270":30},
{"t":22.7,"a0":2,"a30":3,"a270":62},
{"t":22.9,"a0":1},
{"t":23.1,"a0":2,"a60":4},
{"t":23.3,"a0":3},
{"t":23.7,"a0":2}
   ]},
   "transform": [
     {"fold": ["a0","a30","a60","a90","a120","a150","a180","a210","a240","a270","a300","a330"], "as": ["k", "v"]},
     {"filter": "datum.v > 0"},
     {"lookup": "k", "from": {"data": {"name": "regions"}, "key": "k", "fields": ["r", "o"]}}
   ],
   "mark": {"type": "bar", "width": 8.7, "stroke": "#6b6b6b", "strokeWidth": 0.3},
   "encoding": {
     "x": {"field": "t", "type": "quantitative", "scale": {"domain": [10.95, 24], "nice": false, "zero": false}, "axis": null},
     "y": {"field": "v", "type": "quantitative", "stack": "zero", "scale": {"domain": [0, 1070], "range": [705, 455], "nice": false, "zero": false},
       "axis": {"orient": "left", "values": [50,100,150,200,250,300,350,400,450,500,550,600,650,700,750,800,850,900,950,1000,1050], "format": "d", "labelExpr": "datum.value % 200 == 0 ? datum.label : ''", "title": "AIS Mass Loss (Gt/a)", "titlePadding": 8}},
     "color": {"field": "r", "type": "nominal", "scale": {"domain": ["330–360°","300–330°","270–300°","240–270°","210–240°","180–210°","150–180°","120–150°","90–120°","60–90°","30–60°","0–30°"], "range": ["#4a4c9c","#a19fd1","#2f8a3d","#d3282d","#d7686c","#ccc234","#cfc98b","#43b3be","#5fc2c8","#87cfd2","#addfdf","#c7d7d7"]}, "legend": null},
     "order": {"field": "o", "type": "quantitative", "sort": "ascending"}}},

  {"data": {"name": "regions"}, "transform": [{"filter": "datum.g == 'Weddell Sea'"}],
   "mark": {"type": "square", "opacity": 0},
   "encoding": {"color": {"field": "r", "type": "nominal", "scale": {"domain": ["330–360°","300–330°"], "range": ["#4a4c9c","#a19fd1"]},
     "legend": {"orient": "none", "legendX": 367, "legendY": 467, "title": null, "symbolType": "square", "symbolSize": 49, "symbolOpacity": 1, "labelFontSize": 7, "labelColor": "#333", "rowPadding": 4.6, "padding": 0,
       "encode": {"labels": {"update": {"x": {"value": 0}}}, "symbols": {"update": {"x": {"value": 40}}}}}}}},
  {"data": {"name": "regions"}, "transform": [{"filter": "datum.g == 'Antarctic Peninsula'"}],
   "mark": {"type": "square", "opacity": 0},
   "encoding": {"color": {"field": "r", "type": "nominal", "scale": {"domain": ["270–300°"], "range": ["#2f8a3d"]},
     "legend": {"orient": "none", "legendX": 367, "legendY": 503, "title": null, "symbolType": "square", "symbolSize": 49, "symbolOpacity": 1, "labelFontSize": 7, "labelColor": "#333", "rowPadding": 4.6, "padding": 0,
       "encode": {"labels": {"update": {"x": {"value": 0}}}, "symbols": {"update": {"x": {"value": 40}}}}}}}},
  {"data": {"name": "regions"}, "transform": [{"filter": "datum.g == 'Amundsen Sea'"}],
   "mark": {"type": "square", "opacity": 0},
   "encoding": {"color": {"field": "r", "type": "nominal", "scale": {"domain": ["240–270°","210–240°"], "range": ["#d3282d","#d7686c"]},
     "legend": {"orient": "none", "legendX": 367, "legendY": 526.5, "title": null, "symbolType": "square", "symbolSize": 49, "symbolOpacity": 1, "labelFontSize": 7, "labelColor": "#333", "rowPadding": 4.6, "padding": 0,
       "encode": {"labels": {"update": {"x": {"value": 0}}}, "symbols": {"update": {"x": {"value": 40}}}}}}}},
  {"data": {"name": "regions"}, "transform": [{"filter": "datum.g == 'Ross Sea'"}],
   "mark": {"type": "square", "opacity": 0},
   "encoding": {"color": {"field": "r", "type": "nominal", "scale": {"domain": ["180–210°","150–180°"], "range": ["#ccc234","#cfc98b"]},
     "legend": {"orient": "none", "legendX": 367, "legendY": 562, "title": null, "symbolType": "square", "symbolSize": 49, "symbolOpacity": 1, "labelFontSize": 7, "labelColor": "#333", "rowPadding": 4.6, "padding": 0,
       "encode": {"labels": {"update": {"x": {"value": 0}}}, "symbols": {"update": {"x": {"value": 40}}}}}}}},
  {"data": {"name": "regions"}, "transform": [{"filter": "datum.g == 'East Antarctica'"}],
   "mark": {"type": "square", "opacity": 0},
   "encoding": {"color": {"field": "r", "type": "nominal", "scale": {"domain": ["120–150°","90–120°","60–90°","30–60°","0–30°"], "range": ["#43b3be","#5fc2c8","#87cfd2","#addfdf","#c7d7d7"]},
     "legend": {"orient": "none", "legendX": 367, "legendY": 597.5, "title": null, "symbolType": "square", "symbolSize": 49, "symbolOpacity": 1, "labelFontSize": 7, "labelColor": "#333", "rowPadding": 5, "padding": 0,
       "encode": {"labels": {"update": {"x": {"value": 0}}}, "symbols": {"update": {"x": {"value": 40}}}}}}}},

  {"mark": {"type": "text", "align": "left", "baseline": "middle", "fontSize": 13.5},
   "encoding": {"x": {"datum": 16.73, "type": "quantitative", "scale": {"domain": [10.95, 24], "nice": false, "zero": false}, "axis": null},
     "y": {"datum": 971.6, "type": "quantitative", "scale": {"domain": [0, 1070], "range": [705, 455], "nice": false, "zero": false}, "axis": null}, "text": {"value": "Weddell Sea"}}},
  {"mark": {"type": "text", "align": "left", "baseline": "middle", "fontSize": 13.5},
   "encoding": {"x": {"datum": 16.70, "type": "quantitative", "scale": {"domain": [10.95, 24], "nice": false, "zero": false}, "axis": null},
     "y": {"datum": 856, "type": "quantitative", "scale": {"domain": [0, 1070], "range": [705, 455], "nice": false, "zero": false}, "axis": null}, "text": {"value": "Antarctic Peninsula"}}},
  {"mark": {"type": "text", "align": "left", "baseline": "middle", "fontSize": 13.5},
   "encoding": {"x": {"datum": 16.73, "type": "quantitative", "scale": {"domain": [10.95, 24], "nice": false, "zero": false}, "axis": null},
     "y": {"datum": 719, "type": "quantitative", "scale": {"domain": [0, 1070], "range": [705, 455], "nice": false, "zero": false}, "axis": null}, "text": {"value": "Amundsen Sea"}}},
  {"mark": {"type": "text", "align": "left", "baseline": "middle", "fontSize": 13.5},
   "encoding": {"x": {"datum": 16.73, "type": "quantitative", "scale": {"domain": [10.95, 24], "nice": false, "zero": false}, "axis": null},
     "y": {"datum": 578, "type": "quantitative", "scale": {"domain": [0, 1070], "range": [705, 455], "nice": false, "zero": false}, "axis": null}, "text": {"value": "Ross Sea"}}},
  {"mark": {"type": "text", "align": "left", "baseline": "middle", "fontSize": 13.5},
   "encoding": {"x": {"datum": 16.75, "type": "quantitative", "scale": {"domain": [10.95, 24], "nice": false, "zero": false}, "axis": null},
     "y": {"datum": 372, "type": "quantitative", "scale": {"domain": [0, 1070], "range": [705, 455], "nice": false, "zero": false}, "axis": null}, "text": {"value": "East Antarctica"}}},

  {"data": {"values": [
{"t":10.95,"v":-33.94},{"t":11.03,"v":-33.75},{"t":11.09,"v":-34.0},{"t":11.14,"v":-33.45},{"t":11.22,"v":-33.75},{"t":11.30,"v":-33.65},{"t":11.37,"v":-33.41},{"t":11.43,"v":-33.94},{"t":11.50,"v":-33.84},{"t":11.58,"v":-34.23},{"t":11.64,"v":-33.94},{"t":11.68,"v":-35.02},{"t":11.72,"v":-34.43},{"t":11.78,"v":-33.94},{"t":11.82,"v":-33.84},{"t":11.85,"v":-34.62},{"t":11.91,"v":-35.02},{"t":11.96,"v":-35.21},{"t":12.02,"v":-35.31},{"t":12.08,"v":-36.0},{"t":12.14,"v":-35.61},{"t":12.19,"v":-36.19},{"t":12.25,"v":-36.0},{"t":12.33,"v":-35.8},{"t":12.40,"v":-36.0},{"t":12.47,"v":-35.7},{"t":12.53,"v":-35.9},{"t":12.60,"v":-36.19},{"t":12.65,"v":-36.0},{"t":12.71,"v":-36.49},{"t":12.79,"v":-36.39},{"t":12.85,"v":-36.68},{"t":12.90,"v":-36.49},{"t":12.95,"v":-36.78},{"t":13.02,"v":-36.49},{"t":13.08,"v":-36.88},{"t":13.13,"v":-36.58},{"t":13.18,"v":-36.97},{"t":13.25,"v":-36.0},{"t":13.31,"v":-35.51},{"t":13.36,"v":-35.8},{"t":13.41,"v":-36.58},{"t":13.47,"v":-37.07},{"t":13.54,"v":-36.68},{"t":13.59,"v":-36.0},{"t":13.65,"v":-35.51},{"t":13.70,"v":-35.02},{"t":13.75,"v":-35.21},{"t":13.80,"v":-35.9},{"t":13.86,"v":-35.8},{"t":13.93,"v":-36.0},{"t":14.00,"v":-35.9},{"t":14.06,"v":-36.19},{"t":14.10,"v":-35.9},{"t":14.16,"v":-36.19},{"t":14.22,"v":-36.39},{"t":14.28,"v":-36.0},{"t":14.33,"v":-35.8},{"t":14.39,"v":-36.0},{"t":14.45,"v":-35.61},{"t":14.51,"v":-36.1},{"t":14.56,"v":-35.8},{"t":14.62,"v":-35.61},{"t":14.68,"v":-36.49},{"t":14.74,"v":-36.19},{"t":14.79,"v":-36.68},{"t":14.85,"v":-36.49},{"t":14.91,"v":-36.88},{"t":14.97,"v":-36.58},{"t":15.03,"v":-36.97},{"t":15.10,"v":-36.68},{"t":15.16,"v":-37.07},{"t":15.22,"v":-36.88},{"t":15.28,"v":-37.17},{"t":15.34,"v":-36.97},{"t":15.40,"v":-37.27},{"t":15.46,"v":-37.17},{"t":15.52,"v":-37.46},{"t":15.58,"v":-37.07},{"t":15.65,"v":-37.46},{"t":15.71,"v":-37.27},{"t":15.77,"v":-37.86},{"t":15.83,"v":-37.56},{"t":15.89,"v":-37.76},{"t":15.95,"v":-37.95},{"t":16.01,"v":-37.66},{"t":16.07,"v":-37.76},{"t":16.13,"v":-37.27},{"t":16.20,"v":-37.86},{"t":16.26,"v":-37.56},{"t":16.32,"v":-36.97},{"t":16.36,"v":-37.17},{"t":16.41,"v":-37.76},{"t":16.47,"v":-37.95},{"t":16.53,"v":-37.66},{"t":16.59,"v":-38.15},{"t":16.65,"v":-38.25},{"t":16.72,"v":-37.95},{"t":16.78,"v":-38.45},{"t":16.84,"v":-38.25},{"t":16.90,"v":-38.64},{"t":16.96,"v":-38.35},{"t":17.02,"v":-38.84},{"t":17.08,"v":-38.05},{"t":17.14,"v":-38.54},{"t":17.21,"v":-38.93},{"t":17.27,"v":-38.45},{"t":17.33,"v":-38.74},{"t":17.39,"v":-38.93},{"t":17.45,"v":-39.13},{"t":17.51,"v":-39.32},{"t":17.57,"v":-39.52},
{"t":17.60,"v":-39.23},{"t":17.71,"v":-39.72},{"t":17.79,"v":-40.11},{"t":17.87,"v":-39.81},{"t":17.91,"v":-40.89},{"t":17.98,"v":-38.74},{"t":18.06,"v":-39.52},{"t":18.13,"v":-38.93},{"t":18.17,"v":-39.72},{"t":18.23,"v":-38.93},{"t":18.27,"v":-40.69},{"t":18.33,"v":-38.93},{"t":18.44,"v":-39.32},{"t":18.52,"v":-38.74},{"t":18.59,"v":-39.72},{"t":18.65,"v":-38.54},{"t":18.71,"v":-39.52},{"t":18.78,"v":-39.81},{"t":18.86,"v":-39.32},{"t":18.98,"v":-38.84},{"t":19.05,"v":-39.62},{"t":19.17,"v":-39.42},{"t":19.28,"v":-39.52},{"t":19.40,"v":-39.23},{"t":19.51,"v":-39.32},{"t":19.59,"v":-40.50},{"t":19.66,"v":-40.01},{"t":19.78,"v":-40.11},{"t":19.89,"v":-40.50},{"t":19.97,"v":-40.60},{"t":20.05,"v":-40.89},{"t":20.12,"v":-40.79},{"t":20.20,"v":-40.89},{"t":20.27,"v":-41.08},{"t":20.35,"v":-40.69},{"t":20.50,"v":-40.89},{"t":20.66,"v":-40.99},{"t":20.77,"v":-40.50},{"t":20.85,"v":-40.40},{"t":20.89,"v":-40.99},{"t":20.96,"v":-40.89},{"t":21.04,"v":-41.28},{"t":21.12,"v":-40.99},{"t":21.19,"v":-41.18},{"t":21.27,"v":-41.08},{"t":21.35,"v":-41.28},{"t":21.42,"v":-41.38},{"t":21.54,"v":-41.28},{"t":21.65,"v":-41.08},{"t":21.73,"v":-41.18},{"t":21.80,"v":-41.28},{"t":21.88,"v":-41.67},{"t":21.96,"v":-41.28},{"t":22.07,"v":-41.18},{"t":22.15,"v":-40.89},{"t":22.26,"v":-40.99},{"t":22.34,"v":-41.38},{"t":22.38,"v":-40.99},{"t":22.45,"v":-40.50},{"t":22.53,"v":-40.60},{"t":22.61,"v":-40.40},{"t":22.68,"v":-40.11},{"t":22.76,"v":-40.20},{"t":22.84,"v":-39.91},{"t":22.95,"v":-39.81},{"t":23.07,"v":-39.72},{"t":23.14,"v":-38.93},{"t":23.18,"v":-38.84},{"t":23.24,"v":-39.42},{"t":23.29,"v":-40.01},{"t":23.33,"v":-40.69},{"t":23.41,"v":-40.01},{"t":23.52,"v":-39.91},{"t":23.64,"v":-39.81},{"t":23.75,"v":-40.20},{"t":23.83,"v":-40.11},{"t":23.91,"v":-40.20},{"t":23.98,"v":-40.79}
   ]},
   "mark": {"type": "line", "interpolate": "step-after", "color": "#333333", "strokeWidth": 0.9},
   "encoding": {
     "x": {"field": "t", "type": "quantitative", "scale": {"domain": [10.95, 24], "nice": false, "zero": false}, "axis": null},
     "y": {"field": "v", "type": "quantitative", "scale": {"domain": [-45.8, -33.2], "range": [927, 712.4], "nice": false, "zero": false},
       "axis": {"orient": "left", "values": [-34,-35,-36,-37,-38,-39,-40,-41,-42,-43,-44,-45], "labelExpr": "datum.value % 2 == 0 && datum.value >= -42 ? datum.label : ''", "title": "δ¹⁸O", "titlePadding": 8}}}},

  {"data": {"values": [
{"t":10.95,"v":-35.41},{"t":11.14,"v":-35.51},{"t":11.33,"v":-35.31},{"t":11.56,"v":-35.21},{"t":11.72,"v":-35.02},{"t":11.81,"v":-34.92},{"t":11.91,"v":-35.31},{"t":12.02,"v":-35.51},{"t":12.14,"v":-35.80},{"t":12.25,"v":-36.19},{"t":12.37,"v":-36.58},{"t":12.48,"v":-37.07},{"t":12.60,"v":-37.27},{"t":12.71,"v":-37.52},{"t":12.86,"v":-37.66},{"t":13.02,"v":-37.70},{"t":13.17,"v":-37.66},{"t":13.32,"v":-37.52},{"t":13.47,"v":-37.41},{"t":13.63,"v":-37.21},{"t":13.78,"v":-36.97},{"t":13.93,"v":-36.74},{"t":14.09,"v":-36.49},{"t":14.24,"v":-36.35},{"t":14.39,"v":-36.29},{"t":14.51,"v":-36.49},{"t":14.62,"v":-36.78},{"t":14.77,"v":-36.93},{"t":15.00,"v":-37.07},{"t":15.23,"v":-37.21},{"t":15.46,"v":-37.37},{"t":15.69,"v":-37.52},{"t":15.92,"v":-37.66},{"t":16.15,"v":-37.80},{"t":16.38,"v":-37.95},{"t":16.61,"v":-38.11},{"t":16.84,"v":-38.25},{"t":17.07,"v":-38.39},{"t":17.30,"v":-38.54},{"t":17.53,"v":-38.84},{"t":17.60,"v":-39.13},{"t":17.83,"v":-39.52},{"t":18.13,"v":-39.62},{"t":18.52,"v":-39.72},{"t":18.90,"v":-40.01},{"t":19.28,"v":-40.30},{"t":19.66,"v":-40.60},{"t":19.82,"v":-40.89},{"t":20.05,"v":-40.79},{"t":20.27,"v":-40.89},{"t":20.58,"v":-40.89},{"t":20.81,"v":-40.99},{"t":21.04,"v":-41.18},{"t":21.35,"v":-41.38},{"t":21.65,"v":-41.38},{"t":21.80,"v":-41.77},{"t":21.96,"v":-41.48},{"t":22.26,"v":-41.38},{"t":22.49,"v":-41.18},{"t":22.72,"v":-41.08},{"t":22.95,"v":-40.89},{"t":23.18,"v":-40.50},{"t":23.49,"v":-40.40},{"t":23.72,"v":-40.30},{"t":23.87,"v":-40.20},{"t":23.98,"v":-40.79}
   ]},
   "mark": {"type": "line", "interpolate": "step-after", "color": "#3a3ee0", "strokeWidth": 1},
   "encoding": {
     "x": {"field": "t", "type": "quantitative", "scale": {"domain": [10.95, 24], "nice": false, "zero": false}, "axis": null},
     "y": {"field": "v", "type": "quantitative", "scale": {"domain": [-45.8, -33.2], "range": [927, 712.4], "nice": false, "zero": false}, "axis": null}}},

  {"data": {"values": [
{"t":10.95,"v":-267.2},{"t":11.01,"v":-254.5},{"t":11.07,"v":-260.3},{"t":11.12,"v":-247.5},{"t":11.18,"v":-253.3},{"t":11.23,"v":-268.4},{"t":11.27,"v":-310.0},{"t":11.32,"v":-282.2},{"t":11.36,"v":-300.8},{"t":11.41,"v":-286.9},{"t":11.47,"v":-293.8},{"t":11.52,"v":-289.2},{"t":11.58,"v":-298.5},{"t":11.64,"v":-291.5},{"t":11.70,"v":-300.8},{"t":11.76,"v":-293.8},{"t":11.82,"v":-299.6},{"t":11.88,"v":-289.2},{"t":11.94,"v":-298.5},{"t":12.00,"v":-291.5},{"t":12.07,"v":-315.8},{"t":12.13,"v":-286.9},{"t":12.19,"v":-300.8},{"t":12.25,"v":-282.2},{"t":12.31,"v":-296.1},{"t":12.37,"v":-289.2},{"t":12.43,"v":-298.5},{"t":12.50,"v":-291.5},{"t":12.56,"v":-297.3},{"t":12.62,"v":-286.9},{"t":12.68,"v":-296.1},{"t":12.74,"v":-286.9},{"t":12.79,"v":-301.9},{"t":12.86,"v":-314.6},{"t":12.92,"v":-298.5},{"t":12.99,"v":-298.5},{"t":13.05,"v":-314.6},{"t":13.11,"v":-307.7},{"t":13.17,"v":-319.3},{"t":13.23,"v":-323.9},{"t":13.29,"v":-332.0},{"t":13.35,"v":-326.2},{"t":13.41,"v":-319.3},{"t":13.47,"v":-323.9},{"t":13.54,"v":-330.8},{"t":13.60,"v":-320.4},{"t":13.66,"v":-328.5},{"t":13.72,"v":-318.1},{"t":13.78,"v":-322.7},{"t":13.84,"v":-328.5},{"t":13.90,"v":-337.8},{"t":13.96,"v":-333.1},{"t":14.02,"v":-338.9},{"t":14.09,"v":-351.7},{"t":14.15,"v":-338.9},{"t":14.21,"v":-349.4},{"t":14.27,"v":-340.1},{"t":14.33,"v":-332.0},{"t":14.39,"v":-333.1},{"t":14.45,"v":-349.4},{"t":14.51,"v":-338.9},{"t":14.58,"v":-332.0},{"t":14.64,"v":-333.1},{"t":14.70,"v":-332.0},{"t":14.76,"v":-334.3},{"t":14.82,"v":-333.1},{"t":14.88,"v":-336.6},{"t":14.94,"v":-342.4},{"t":15.00,"v":-336.6},{"t":15.06,"v":-342.4},{"t":15.13,"v":-345.8},{"t":15.19,"v":-349.4},{"t":15.25,"v":-342.4},{"t":15.31,"v":-349.4},{"t":15.37,"v":-342.4},{"t":15.43,"v":-348.2},{"t":15.49,"v":-342.4},{"t":15.55,"v":-347.0},{"t":15.61,"v":-350.5},{"t":15.67,"v":-355.0},{"t":15.74,"v":-342.4},{"t":15.80,"v":-348.2},{"t":15.86,"v":-342.4},{"t":15.92,"v":-351.7},{"t":15.98,"v":-338.9},{"t":16.04,"v":-343.5},{"t":16.10,"v":-347.0},{"t":16.17,"v":-337.8},{"t":16.23,"v":-333.1},{"t":16.29,"v":-338.9},{"t":16.35,"v":-333.1},{"t":16.41,"v":-327.4},{"t":16.47,"v":-332.0},{"t":16.53,"v":-328.5},{"t":16.59,"v":-333.1},{"t":16.65,"v":-329.7},{"t":16.72,"v":-334.3},{"t":16.78,"v":-323.9},{"t":16.84,"v":-333.1},{"t":16.90,"v":-337.8},{"t":16.96,"v":-356.3},{"t":17.02,"v":-356.3},{"t":17.08,"v":-321.6},{"t":17.14,"v":-314.6},{"t":17.21,"v":-318.1},{"t":17.27,"v":-314.6},{"t":17.33,"v":-318.1},{"t":17.39,"v":-321.6},{"t":17.45,"v":-320.4},{"t":17.51,"v":-323.9},{"t":17.57,"v":-323.9},
{"t":17.60,"v":-328.5},{"t":17.68,"v":-323.9},{"t":17.74,"v":-332.0},{"t":17.79,"v":-332.0},{"t":17.84,"v":-323.9},{"t":17.92,"v":-321.6},{"t":17.98,"v":-329.7},{"t":18.10,"v":-332.0},{"t":18.17,"v":-319.3},{"t":18.29,"v":-321.6},{"t":18.44,"v":-323.9},{"t":18.52,"v":-320.4},{"t":18.63,"v":-326.2},{"t":18.75,"v":-312.3},{"t":18.86,"v":-311.2},{"t":18.94,"v":-327.4},{"t":19.13,"v":-328.5},{"t":19.28,"v":-333.1},{"t":19.36,"v":-351.7},{"t":19.42,"v":-356.0},{"t":19.47,"v":-344.7},{"t":19.55,"v":-328.5},{"t":19.60,"v":-321.6},{"t":19.66,"v":-307.7},{"t":19.74,"v":-310.0},{"t":19.82,"v":-329.7},{"t":20.01,"v":-332.0},{"t":20.20,"v":-335.5},{"t":20.39,"v":-338.9},{"t":20.50,"v":-342.4},{"t":20.58,"v":-351.7},{"t":20.66,"v":-358.0},{"t":20.81,"v":-356.0},{"t":20.89,"v":-342.4},{"t":21.04,"v":-347.0},{"t":21.19,"v":-351.7},{"t":21.35,"v":-350.5},{"t":21.42,"v":-361.0},{"t":21.54,"v":-362.0},{"t":21.61,"v":-344.7},{"t":21.69,"v":-333.1},{"t":21.77,"v":-342.4},{"t":21.88,"v":-360.0},{"t":22.11,"v":-360.0},{"t":22.19,"v":-354.0},{"t":22.34,"v":-355.0},{"t":22.45,"v":-350.5},{"t":22.57,"v":-347.0},{"t":22.65,"v":-354.0},{"t":22.76,"v":-351.7},{"t":22.87,"v":-356.0},{"t":22.99,"v":-344.7},{"t":23.07,"v":-357.0},{"t":23.22,"v":-354.0},{"t":23.41,"v":-344.7},{"t":23.56,"v":-340.1},{"t":23.72,"v":-336.6},{"t":23.87,"v":-341.2},{"t":23.98,"v":-342.4}
   ]},
   "mark": {"type": "line", "interpolate": "step-after", "color": "#222222", "strokeWidth": 0.8, "strokeDash": [1.6, 1.4]},
   "encoding": {
     "x": {"field": "t", "type": "quantitative", "scale": {"domain": [10.95, 24], "nice": false, "zero": false}, "axis": null},
     "y": {"field": "v", "type": "quantitative", "scale": {"domain": [-363.5, -258], "range": [927, 775], "nice": false, "zero": false},
       "axis": {"orient": "right", "values": [-260,-270,-280,-290,-300,-310,-320,-330,-340,-350,-360], "labelExpr": "datum.value % 20 == 0 ? '− ' + abs(datum.value) : ''", "title": "δD d Patriot Hills", "titleAngle": 270, "titlePadding": 22}}}},

  {"data": {"values": [
{"t":10.99,"v":-256.3},{"t":11.14,"v":-260.3},{"t":11.33,"v":-270.7},{"t":11.49,"v":-282.2},{"t":11.64,"v":-291.5},{"t":11.79,"v":-297.3},{"t":11.95,"v":-299.6},{"t":12.10,"v":-300.8},{"t":12.25,"v":-300.3},{"t":12.40,"v":-298.9},{"t":12.56,"v":-298.0},{"t":12.71,"v":-298.5},{"t":12.86,"v":-301.9},{"t":13.02,"v":-307.7},{"t":13.17,"v":-314.6},{"t":13.32,"v":-320.4},{"t":13.47,"v":-323.9},{"t":13.63,"v":-326.7},{"t":13.78,"v":-329.7},{"t":13.93,"v":-332.0},{"t":14.09,"v":-334.3},{"t":14.24,"v":-336.6},{"t":14.39,"v":-338.9},{"t":14.55,"v":-340.1},{"t":14.70,"v":-340.1},{"t":14.85,"v":-339.6},{"t":15.00,"v":-339.6},{"t":15.16,"v":-341.2},{"t":15.31,"v":-343.5},{"t":15.46,"v":-345.8},{"t":15.61,"v":-347.5},{"t":15.77,"v":-347.0},{"t":15.92,"v":-344.7},{"t":16.07,"v":-341.2},{"t":16.23,"v":-337.8},{"t":16.38,"v":-335.9},{"t":16.53,"v":-335.9},{"t":16.69,"v":-337.3},{"t":16.84,"v":-337.8},{"t":16.99,"v":-335.5},{"t":17.14,"v":-333.1},{"t":17.30,"v":-330.8},{"t":17.45,"v":-328.5},{"t":17.68,"v":-326.2},{"t":17.98,"v":-329.7},{"t":18.29,"v":-326.2},{"t":18.52,"v":-322.7},{"t":18.67,"v":-321.1},{"t":18.82,"v":-321.6},{"t":18.98,"v":-323.9},{"t":19.13,"v":-329.7},{"t":19.28,"v":-335.5},{"t":19.43,"v":-336.6},{"t":19.59,"v":-335.5},{"t":19.74,"v":-330.8},{"t":19.89,"v":-326.2},{"t":20.01,"v":-325.0},{"t":20.12,"v":-327.4},{"t":20.27,"v":-333.1},{"t":20.43,"v":-338.9},{"t":20.66,"v":-344.7},{"t":20.89,"v":-349.4},{"t":21.12,"v":-352.8},{"t":21.35,"v":-351.7},{"t":21.54,"v":-350.5},{"t":21.73,"v":-351.7},{"t":21.96,"v":-352.8},{"t":22.26,"v":-354.4},{"t":22.57,"v":-355.8},{"t":22.87,"v":-354.4},{"t":23.18,"v":-352.8},{"t":23.49,"v":-347.0},{"t":23.72,"v":-342.4},{"t":23.87,"v":-341.2},{"t":23.98,"v":-344.7}
   ]},
   "mark": {"type": "line", "interpolate": "monotone", "color": "#3c9e2e", "strokeWidth": 1.2},
   "encoding": {
     "x": {"field": "t", "type": "quantitative", "scale": {"domain": [10.95, 24], "nice": false, "zero": false}, "axis": null},
     "y": {"field": "v", "type": "quantitative", "scale": {"domain": [-363.5, -258], "range": [927, 775], "nice": false, "zero": false}, "axis": null}}},

  {"data": {"values": [{"t": 11.57}, {"t": 11.87}, {"t": 12.72}, {"t": 15.49}, {"t": 17.80}, {"t": 18.29}]},
   "mark": {"type": "point", "shape": "triangle-up", "filled": true, "color": "#000000", "size": 45, "opacity": 1},
   "encoding": {
     "x": {"field": "t", "type": "quantitative", "scale": {"domain": [10.95, 24], "nice": false, "zero": false}, "axis": null},
     "y": {"datum": -359.7, "type": "quantitative", "scale": {"domain": [-363.5, -258], "range": [927, 775], "nice": false, "zero": false}, "axis": null}}},

  {"mark": {"type": "rule", "color": "#e8202a", "strokeWidth": 1.3},
   "encoding": {"x": {"datum": 12.79, "type": "quantitative", "scale": {"domain": [10.95, 24], "nice": false, "zero": false}, "axis": null},
     "y": {"datum": -40.7, "type": "quantitative", "scale": {"domain": [-45.8, -33.2], "range": [927, 712.4], "nice": false, "zero": false}, "axis": null}, "y2": {"datum": -43.7}}},
  {"mark": {"type": "point", "shape": "triangle-up", "filled": true, "color": "#e8202a", "size": 40, "opacity": 1},
   "encoding": {"x": {"datum": 12.79, "type": "quantitative", "scale": {"domain": [10.95, 24], "nice": false, "zero": false}, "axis": null},
     "y": {"datum": -40.76, "type": "quantitative", "scale": {"domain": [-45.8, -33.2], "range": [927, 712.4], "nice": false, "zero": false}, "axis": null}}},
  {"mark": {"type": "point", "shape": "triangle-down", "filled": true, "color": "#e8202a", "size": 40, "opacity": 1},
   "encoding": {"x": {"datum": 12.79, "type": "quantitative", "scale": {"domain": [10.95, 24], "nice": false, "zero": false}, "axis": null},
     "y": {"datum": -43.63, "type": "quantitative", "scale": {"domain": [-45.8, -33.2], "range": [927, 712.4], "nice": false, "zero": false}, "axis": null}}},

  {"mark": {"type": "rule", "color": "#000000", "strokeWidth": 1},
   "encoding": {"x": {"datum": 15.38, "type": "quantitative", "scale": {"domain": [10.95, 24], "nice": false, "zero": false}, "axis": null},
     "y": {"datum": 201.5, "type": "quantitative", "scale": {"domain": [169.5, 211.5], "range": [216.8, 126.8], "nice": false, "zero": false}, "axis": null}, "y2": {"datum": 170}}},
  {"mark": {"type": "point", "shape": "triangle-up", "filled": true, "color": "#000000", "size": 30, "opacity": 1},
   "encoding": {"x": {"datum": 15.38, "type": "quantitative", "scale": {"domain": [10.95, 24], "nice": false, "zero": false}, "axis": null},
     "y": {"datum": 200.7, "type": "quantitative", "scale": {"domain": [169.5, 211.5], "range": [216.8, 126.8], "nice": false, "zero": false}, "axis": null}}},
  {"mark": {"type": "point", "shape": "triangle-down", "filled": true, "color": "#000000", "size": 30, "opacity": 1},
   "encoding": {"x": {"datum": 15.38, "type": "quantitative", "scale": {"domain": [10.95, 24], "nice": false, "zero": false}, "axis": null},
     "y": {"datum": 170.8, "type": "quantitative", "scale": {"domain": [169.5, 211.5], "range": [216.8, 126.8], "nice": false, "zero": false}, "axis": null}}},
  {"mark": {"type": "text", "align": "center", "baseline": "middle", "fontSize": 10},
   "encoding": {"x": {"datum": 15.42, "type": "quantitative", "scale": {"domain": [10.95, 24], "nice": false, "zero": false}, "axis": null},
     "y": {"datum": 205.3, "type": "quantitative", "scale": {"domain": [169.5, 211.5], "range": [216.8, 126.8], "nice": false, "zero": false}, "axis": null}, "text": {"value": "ITCZ North"}}},
  {"mark": {"type": "text", "align": "center", "baseline": "middle", "fontSize": 10},
   "encoding": {"x": {"datum": 15.42, "type": "quantitative", "scale": {"domain": [10.95, 24], "nice": false, "zero": false}, "axis": null},
     "y": {"datum": 166.5, "type": "quantitative", "scale": {"domain": [169.5, 211.5], "range": [216.8, 126.8], "nice": false, "zero": false}, "axis": null}, "text": {"value": "ITCZ South"}}},

  {"mark": {"type": "rule", "color": "#000000", "strokeWidth": 1},
   "encoding": {"x": {"datum": 12.93, "type": "quantitative", "scale": {"domain": [10.95, 24], "nice": false, "zero": false}, "axis": null}, "x2": {"datum": 14.06},
     "y": {"datum": 4.645, "type": "quantitative", "scale": {"domain": [0, 6], "range": [369, 245], "nice": false, "zero": false}, "axis": null}}},
  {"mark": {"type": "point", "shape": "triangle-left", "filled": true, "color": "#000000", "size": 30, "opacity": 1},
   "encoding": {"x": {"datum": 12.95, "type": "quantitative", "scale": {"domain": [10.95, 24], "nice": false, "zero": false}, "axis": null},
     "y": {"datum": 4.645, "type": "quantitative", "scale": {"domain": [0, 6], "range": [369, 245], "nice": false, "zero": false}, "axis": null}}},
  {"mark": {"type": "point", "shape": "triangle-right", "filled": true, "color": "#000000", "size": 30, "opacity": 1},
   "encoding": {"x": {"datum": 14.04, "type": "quantitative", "scale": {"domain": [10.95, 24], "nice": false, "zero": false}, "axis": null},
     "y": {"datum": 4.645, "type": "quantitative", "scale": {"domain": [0, 6], "range": [369, 245], "nice": false, "zero": false}, "axis": null}}},
  {"mark": {"type": "text", "align": "center", "baseline": "middle", "fontSize": 10, "lineHeight": 13},
   "encoding": {"x": {"datum": 13.50, "type": "quantitative", "scale": {"domain": [10.95, 24], "nice": false, "zero": false}, "axis": null},
     "y": {"datum": 5.59, "type": "quantitative", "scale": {"domain": [0, 6], "range": [369, 245], "nice": false, "zero": false}, "axis": null}, "text": {"value": ["Reduced SO", "overturning"]}}},

  {"mark": {"type": "text", "align": "center", "baseline": "middle", "fontSize": 25},
   "encoding": {"x": {"datum": 12.19, "type": "quantitative", "scale": {"domain": [10.95, 24], "nice": false, "zero": false}, "axis": null},
     "y": {"datum": -35.94, "type": "quantitative", "scale": {"domain": [-47.5, -33.5], "range": [126, 0], "nice": false, "zero": false}, "axis": null}, "text": {"value": "YD"}}},
  {"mark": {"type": "text", "align": "center", "baseline": "middle", "fontSize": 26},
   "encoding": {"x": {"datum": 13.84, "type": "quantitative", "scale": {"domain": [10.95, 24], "nice": false, "zero": false}, "axis": null},
     "y": {"datum": -38.93, "type": "quantitative", "scale": {"domain": [-45.8, -33.2], "range": [927, 712.4], "nice": false, "zero": false}, "axis": null}, "text": {"value": "ACR"}}},
  {"mark": {"type": "text", "align": "center", "baseline": "middle", "fontSize": 13.5, "lineHeight": 18},
   "encoding": {"x": {"datum": 15.17, "type": "quantitative", "scale": {"domain": [10.95, 24], "nice": false, "zero": false}, "axis": null},
     "y": {"datum": -41.05, "type": "quantitative", "scale": {"domain": [-45.8, -33.2], "range": [927, 712.4], "nice": false, "zero": false}, "axis": null}, "text": {"value": ["Δ~600m elevation change", "recorded across the ACR"]}}},

  {"mark": {"type": "text", "align": "center", "baseline": "middle", "fontSize": 21},
   "encoding": {"x": {"datum": 10.01, "type": "quantitative", "scale": {"domain": [10.95, 24], "nice": false, "zero": false}, "axis": null},
     "y": {"datum": -35.11, "type": "quantitative", "scale": {"domain": [-47.5, -33.5], "range": [126, 0], "nice": false, "zero": false}, "axis": null}, "text": {"value": "A"}}},
  {"mark": {"type": "text", "align": "center", "baseline": "middle", "fontSize": 20},
   "encoding": {"x": {"datum": 17.33, "type": "quantitative", "scale": {"domain": [10.95, 24], "nice": false, "zero": false}, "axis": null},
     "y": {"datum": 210.4, "type": "quantitative", "scale": {"domain": [169.5, 211.5], "range": [216.8, 126.8], "nice": false, "zero": false}, "axis": null}, "text": {"value": "B"}}},
  {"mark": {"type": "text", "align": "center", "baseline": "middle", "fontSize": 20},
   "encoding": {"x": {"datum": 21.30, "type": "quantitative", "scale": {"domain": [10.95, 24], "nice": false, "zero": false}, "axis": null},
     "y": {"datum": 6.15, "type": "quantitative", "scale": {"domain": [0, 6], "range": [369, 245], "nice": false, "zero": false}, "axis": null}, "text": {"value": "C"}}},
  {"mark": {"type": "text", "align": "center", "baseline": "middle", "fontSize": 21},
   "encoding": {"x": {"datum": 9.99, "type": "quantitative", "scale": {"domain": [10.95, 24], "nice": false, "zero": false}, "axis": null},
     "y": {"datum": 1.195, "type": "quantitative", "scale": {"domain": [0, 1.2], "range": [447.7, 321.2], "nice": false, "zero": false}, "axis": null}, "text": {"value": "D"}}},
  {"mark": {"type": "text", "align": "center", "baseline": "middle", "fontSize": 21},
   "encoding": {"x": {"datum": 9.94, "type": "quantitative", "scale": {"domain": [10.95, 24], "nice": false, "zero": false}, "axis": null},
     "y": {"datum": 966, "type": "quantitative", "scale": {"domain": [0, 1070], "range": [705, 455], "nice": false, "zero": false}, "axis": null}, "text": {"value": "E"}}},
  {"mark": {"type": "text", "align": "center", "baseline": "middle", "fontSize": 21},
   "encoding": {"x": {"datum": 9.93, "type": "quantitative", "scale": {"domain": [10.95, 24], "nice": false, "zero": false}, "axis": null},
     "y": {"datum": -34.59, "type": "quantitative", "scale": {"domain": [-45.8, -33.2], "range": [927, 712.4], "nice": false, "zero": false}, "axis": null}, "text": {"value": "F"}}},
  {"mark": {"type": "text", "align": "center", "baseline": "middle", "fontSize": 21},
   "encoding": {"x": {"datum": 25.38, "type": "quantitative", "scale": {"domain": [10.95, 24], "nice": false, "zero": false}, "axis": null},
     "y": {"datum": -256.2, "type": "quantitative", "scale": {"domain": [-363.5, -258], "range": [927, 775], "nice": false, "zero": false}, "axis": null}, "text": {"value": "G"}}}
]
}
